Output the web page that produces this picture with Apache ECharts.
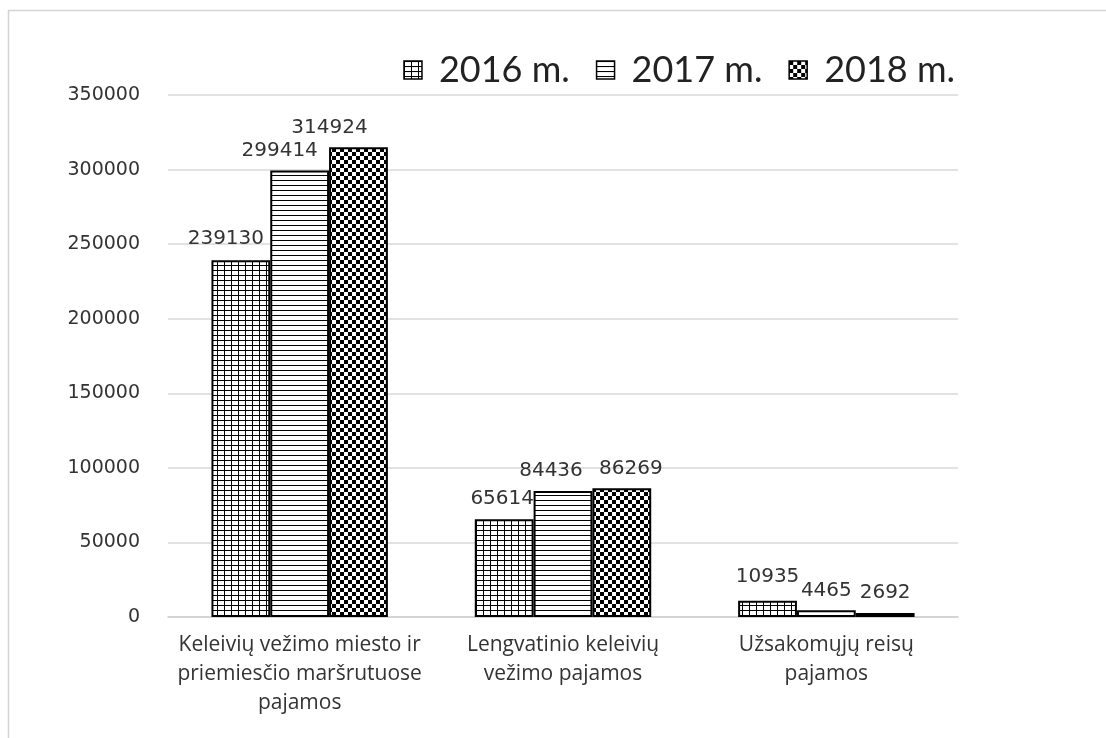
<!DOCTYPE html>
<html>
<head>
<meta charset="utf-8">
<script src="https://cdn.jsdelivr.net/npm/echarts@6/dist/echarts.min.js"></script>
<style>
  html, body { margin: 0; padding: 0; background: #fff; }
  #main { width: 1106px; height: 738px; }
</style>
</head>
<body>
<div id="main"></div>
<script>
// duomenys
var categories = [
    'Keleivių vežimo miesto ir\npriemiesčio maršrutuose\npajamos',
    'Lengvatinio keleivių\nvežimo pajamos',
    'Užsakomųjų reisų\npajamos'
];
var seriesNames = ['2016 m.', '2017 m.', '2018 m.'];
var values2016 = [239130, 65614, 10935];
var values2017 = [299414, 84436, 4465];
var values2018 = [314924, 86269, 2692];

// etikečių poslinkiai (kaip Excel'yje)
var labelShift2016 = [[-15, -4], [-2, -2], [0, -6]];
var labelShift2017 = [[-20, -2], [-12, -2], [0, -2]];
var labelShift2018 = [[-29, -2], [9, -2], [0, -2]];

// rastai (pattern) stulpeliams
function makePattern(w, h, draw) {
    var c = document.createElement('canvas');
    c.width = w; c.height = h;
    var ctx = c.getContext('2d');
    ctx.fillStyle = '#fff';
    ctx.fillRect(0, 0, w, h);
    ctx.fillStyle = '#000';
    draw(ctx);
    return { image: c, repeat: 'repeat' };
}
var gridPat = makePattern(7, 5, function (ctx) {
    ctx.fillRect(0, 0, 1, 5);
    ctx.fillRect(0, 0, 7, 1);
});
var hLinePat = makePattern(4, 5, function (ctx) {
    ctx.fillRect(0, 0, 4, 1);
});
var checkPat = makePattern(8, 8, function (ctx) {
    ctx.fillRect(0, 0, 4, 4);
    ctx.fillRect(4, 4, 4, 4);
});

var myChart = echarts.init(document.getElementById('main'));

function barSeries(name, data, pat, shifts) {
    return {
        name: name,
        type: 'bar',
        data: data.map(function (v, i) {
            return { value: v, label: { offset: shifts[i] } };
        }),
        barGap: '0%',
        barCategoryGap: '33%',
        itemStyle: { color: pat, borderColor: '#000', borderWidth: 2 },
        label: {
            show: true,
            position: 'top',
            distance: 8,
            color: '#333',
            fontFamily: 'DejaVu Sans',
            fontSize: 20
        }
    };
}

var option = {
    backgroundColor: '#fff',
    animation: false,
    graphic: [{
        type: 'rect',
        shape: { x: 8.5, y: 10.5, width: 1200, height: 800 },
        style: { fill: 'none', stroke: '#d4d4d4', lineWidth: 1.5 },
        silent: true
    }],
    legend: {
        right: 146,
        top: 47,
        itemWidth: 18,
        itemHeight: 18,
        itemGap: 26,
        icon: 'rect',
        itemStyle: { borderColor: '#000', borderWidth: 1.5 },
        textStyle: { fontFamily: 'Lato', fontSize: 36, color: '#222', padding: [0, 0, 0, 12] },
        data: seriesNames
    },
    grid: { left: 168, right: 148, top: 95, bottom: 121 },
    xAxis: {
        type: 'category',
        data: categories,
        axisLine: { lineStyle: { color: '#d0d0d0', width: 1.5 } },
        axisTick: { show: false },
        axisLabel: {
            color: '#333',
            fontFamily: 'Open Sans',
            fontSize: 21,
            lineHeight: 29,
            margin: 14,
            interval: 0
        }
    },
    yAxis: {
        type: 'value',
        min: 0,
        max: 350000,
        interval: 50000,
        axisLine: { show: false },
        axisTick: { show: false },
        splitLine: { lineStyle: { color: '#d9d9d9', width: 1.5 } },
        axisLabel: {
            color: '#333',
            fontFamily: 'DejaVu Sans',
            fontSize: 19,
            margin: 28,
            formatter: function (v) { return String(v); }
        }
    },
    series: [
        barSeries(seriesNames[0], values2016, gridPat, labelShift2016),
        barSeries(seriesNames[1], values2017, hLinePat, labelShift2017),
        barSeries(seriesNames[2], values2018, checkPat, labelShift2018)
    ]
};

myChart.setOption(option);
</script>
</body>
</html>
